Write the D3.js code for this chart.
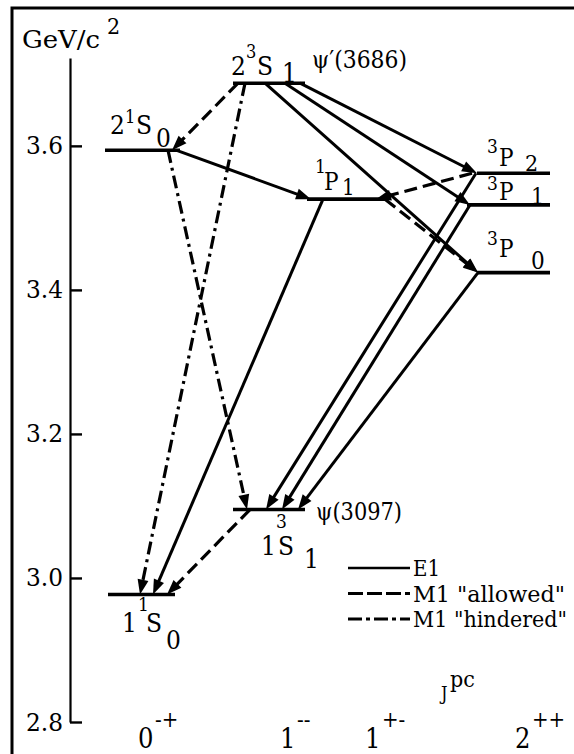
<!DOCTYPE html>
<html><head><meta charset="utf-8">
<script src="https://cdn.jsdelivr.net/npm/d3@7"></script>
<style>
html,body{margin:0;padding:0;background:#fff;}
svg{display:block;}
</style></head><body>
<svg id="c" width="574" height="754"></svg>
<script>
// ---------- DATA ----------
const jpcCategories = ["0-+", "1--", "1+-", "2++"];
const jpcMain = ["0", "1", "1", "2"];
const jpcSup = ["-+", "--", "+-", "++"];
const yTicks = [2.8, 3.0, 3.2, 3.4, 3.6];

const levelNames = ["etac", "etac2", "psi", "psi2", "hc", "chi2", "chi1", "chi0"];
const levelJpc   = ["0-+", "0-+", "1--", "1--", "1+-", "2++", "2++", "2++"];
const levelMass  = [2.977, 3.594, 3.095, 3.687, 3.526, 3.562, 3.518, 3.424];

const transFrom = ["psi2","psi2","psi2","chi2","chi1","chi0","hc","etac2","psi2","psi","chi2","hc","psi2","etac2"];
const transTo   = ["chi2","chi1","chi0","psi","psi","psi","etac","hc","etac2","etac","hc","chi0","etac","psi"];
const transType = ["E1","E1","E1","E1","E1","E1","E1","E1","M1a","M1a","M1a","M1a","M1h","M1h"];

const legendTypes = ["E1", "M1a", "M1h"];
const legendLabels = ["E1", "M1 \"allowed\"", "M1 \"hindered\""];

// ---------- LAYOUT ----------
const colCenter = [142, 269, 347, 512];
const levelDx0 = [-34, -37, -36, -36, -40, -35, -45, -35];
const levelDx1 = [33, 38, 36, 36, 40, 38, 38, 38];
const transFromDx = [31, 16, -4, -36, -42, -34, -24, 34, -31, -19, -40, 38, -24, 26];
const transToDx   = [-35, -42, -34, -3, 13, 29, 11, -36, 30, 25, 29, -34, -2, -22];
const styles = {
  E1:  {dash: null, w: 3.0},
  M1a: {dash: "13,6", w: 3.2},
  M1h: {dash: "13,5,3,5", w: 3.2}
};
const FONT = "'DejaVu Serif Condensed', 'DejaVu Serif', serif";
const FSTRETCH = "condensed";

const svg = d3.select("#c");
const y = d3.scaleLinear().domain([2.8, 3.722]).range([722, 58]);
const x = d3.scaleOrdinal().domain(jpcCategories).range(colCenter);
const jpcLabelX = d3.scaleOrdinal().domain(jpcCategories).range([138, 280, 365, 515]);

// frame
svg.append("path").attr("d", "M12,754 L12,8 L574,8")
  .attr("fill", "none").attr("stroke", "#000").attr("stroke-width", 3);

// axis
const axis = d3.axisLeft(y).tickValues(yTicks).tickFormat(d3.format(".1f"))
  .tickSizeInner(-12).tickSizeOuter(0).tickPadding(7);
const gA = svg.append("g").attr("transform", "translate(70,0)").call(axis)
  .attr("font-family", null).attr("font-size", 25);
gA.select(".domain").attr("stroke-width", 2.2);
gA.selectAll(".tick line").attr("stroke-width", 2.4);
gA.selectAll(".tick text").attr("fill", "#000").attr("textLength", 37)
  .attr("lengthAdjust", "spacingAndGlyphs")
  .style("font-family", FONT).style("font-stretch", FSTRETCH);

function txt(s, tx, ty, size, len) {
  const t = svg.append("text").attr("x", tx).attr("y", ty).attr("font-size", size)
    .style("font-family", FONT).style("font-stretch", FSTRETCH).attr("fill", "#000").text(s);
  if (len) t.attr("textLength", len).attr("lengthAdjust", "spacingAndGlyphs");
  return t;
}
// multi-part label: one text element, tspans placed absolutely
function label(parts) {
  const t = svg.append("text").style("font-family", FONT).style("font-stretch", FSTRETCH).attr("fill", "#000");
  parts.forEach(p => t.append("tspan").attr("x", p[1]).attr("y", p[2]).attr("font-size", p[3]).text(p[0]));
  return t;
}

// unit
label([["GeV/c", 22, 48, 25], ["2", 107, 34, 23]]).select("tspan")
  .attr("textLength", 78).attr("lengthAdjust", "spacingAndGlyphs");

// levels
const lv = {};
levelNames.forEach((n, i) => {
  const cx = x(levelJpc[i]);
  lv[n] = {cx: cx, y: y(levelMass[i])};
  svg.append("line").attr("x1", cx + levelDx0[i]).attr("x2", cx + levelDx1[i])
    .attr("y1", y(levelMass[i])).attr("y2", y(levelMass[i]))
    .attr("stroke", "#000").attr("stroke-width", 3.6);
});

// transitions
const AL = 15, AW = 5.5;
transFrom.forEach((f, i) => {
  const a = lv[f], b = lv[transTo[i]];
  const x1 = a.cx + transFromDx[i], y1 = a.y;
  const x2 = b.cx + transToDx[i], y2 = b.y;
  const dx = x2 - x1, dy = y2 - y1, L = Math.hypot(dx, dy);
  const ux = dx / L, uy = dy / L;
  const st = styles[transType[i]];
  svg.append("line").attr("x1", x1).attr("y1", y1)
    .attr("x2", x2 - ux * AL * 0.7).attr("y2", y2 - uy * AL * 0.7)
    .attr("stroke", "#000").attr("stroke-width", st.w)
    .attr("stroke-dasharray", st.dash);
  const bx = x2 - ux * AL, by = y2 - uy * AL;
  svg.append("path")
    .attr("d", `M${x2},${y2}L${bx - uy * AW},${by + ux * AW}L${bx + uy * AW},${by - ux * AW}Z`)
    .attr("fill", "#000");
});

// level labels
label([["2", 110, 134, 26], ["1", 125, 123, 18], ["S", 136, 134, 26], ["0", 156, 147, 26]]);
label([["2", 231, 75, 26], ["3", 246, 58, 18], ["S", 257, 75, 26], ["1", 282, 82, 26]]);
label([["1", 315, 173, 19], ["P", 324, 190, 24], ["1", 342, 195, 22]]);
label([["3", 487, 153, 19], ["P", 499, 166, 24], ["2", 525, 171, 23]]);
label([["3", 487, 190, 19], ["P", 499, 200, 24], ["1", 531, 204, 23]]);
label([["3", 487, 245, 19], ["P", 499, 257, 24], ["0", 531, 269, 24]]);
label([["1", 261, 555, 26], ["3", 276, 528, 19], ["S", 278, 555, 26], ["1", 304, 568, 26]]);
label([["1", 122, 632, 26], ["1", 138, 611, 19], ["S", 146, 632, 26], ["0", 166, 649, 26]]);
txt("\u03C8\u2032(3686)", 312, 68, 25, 95);
txt("\u03C8(3097)", 316, 520, 25, 86);

// legend
const legendLen = [27, 152, 154];
legendTypes.forEach((t, i) => {
  const ly = 568 + i * 25.5;
  svg.append("line").attr("x1", 348).attr("x2", 410).attr("y1", ly).attr("y2", ly)
    .attr("stroke", "#000").attr("stroke-width", t === "E1" ? 2.4 : 3)
    .attr("stroke-dasharray", t === "M1a" ? "15,4" : (t === "M1h" ? "14,4,4,4" : null));
  txt(legendLabels[i], 413, ly + 8, 23, legendLen[i]);
});

// J^pc
label([["J", 441, 700, 18], ["pc", 450, 687, 23]]);
jpcCategories.forEach((c, i) => {
  label([[jpcMain[i], jpcLabelX(c), 748, 27], [jpcSup[i], jpcLabelX(c) + 17, 727, 22]]);
});
</script>
</body></html>
